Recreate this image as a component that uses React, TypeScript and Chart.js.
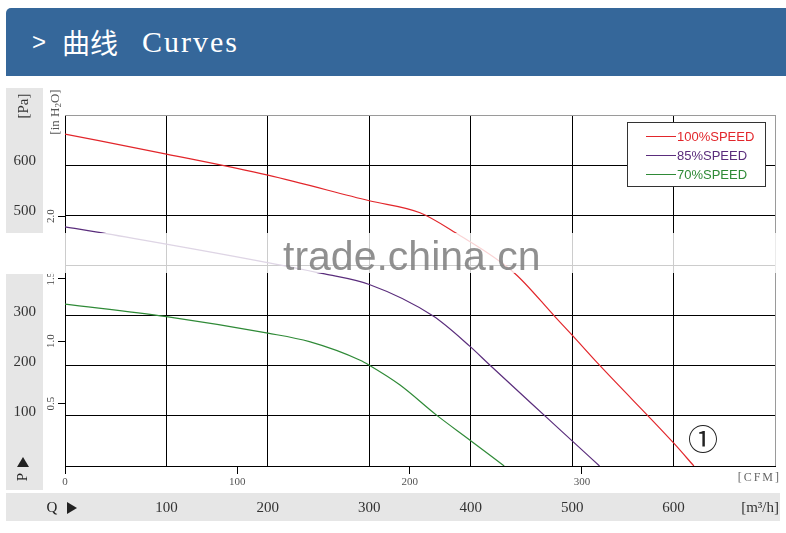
import React, { useEffect, useRef } from "react";
import { Chart, registerables } from "chart.js";

Chart.register(...registerables);

// ---- data (flow in m³/h, static pressure in Pa) ----
const FLOW_100 = [0, 100, 200, 300, 350, 385, 443, 483, 500, 527, 600, 620];
const PRESS_100 = [662, 622, 580, 529, 505, 465, 385, 298, 261, 201, 46, 0];
const FLOW_85 = [0, 42, 256, 300, 363, 399, 418, 478, 500, 527];
const PRESS_85 = [477, 463, 383, 362, 299, 239, 203, 91, 50, 0];
const FLOW_70 = [0, 100, 200, 241, 291, 300, 330, 366, 399, 433];
const PRESS_70 = [323, 298, 265, 248, 211, 201, 162, 102, 52, 0];

const SERIES_LABELS = ["100%SPEED", "85%SPEED", "70%SPEED"];
const SERIES_COLORS = ["#e2262b", "#5a2d7c", "#2f8a37"];

const M3H_TICK_LABELS = [100, 200, 300, 400, 500, 600];
const PA_TICK_LABELS = [100, 200, 300, 400, 500, 600];
const CFM_TICKS = [0, 100, 200, 300];
const INH2O_TICKS = [0.5, 1.0, 1.5, 2.0];

const FLOW_MAX = 700;
const PRESS_MAX = 700;
const M3H_PER_CFM = 1.699;
const PA_PER_INH2O = 249.09;

const SERIF = "'Liberation Serif', 'DejaVu Serif', serif";
const SANS = "'Liberation Sans', Arial, sans-serif";

function pts(xs: number[], ys: number[]) {
  return xs.map((x, i) => ({ x, y: ys[i] }));
}

function rotText(ctx: CanvasRenderingContext2D, text: string, x: number, y: number, font: string, color: string) {
  ctx.save();
  ctx.translate(x, y);
  ctx.rotate(-Math.PI / 2);
  ctx.font = font;
  ctx.fillStyle = color;
  ctx.textAlign = "center";
  ctx.textBaseline = "middle";
  ctx.fillText(text, 0, 0);
  ctx.restore();
}

const decorPlugin = {
  id: "decor",
  beforeDraw(chart: any) {
    const ctx: CanvasRenderingContext2D = chart.ctx;
    ctx.save();
    ctx.fillStyle = "#e6e6e6";
    ctx.fillRect(6, 88, 37, 402);
    ctx.fillRect(6, 493, 774, 28);
    ctx.restore();
  },
  afterDraw(chart: any) {
    const ctx: CanvasRenderingContext2D = chart.ctx;
    const area = chart.chartArea;
    ctx.save();

    // legend box
    const bx = area.right - 148;
    const by = area.top + 7;
    ctx.fillStyle = "#fff";
    ctx.fillRect(bx, by, 138, 64);
    ctx.strokeStyle = "#333";
    ctx.lineWidth = 1;
    ctx.strokeRect(bx + 0.5, by + 0.5, 138, 64);
    chart.data.datasets.forEach((ds: any, i: number) => {
      const y = by + 14 + i * 19;
      ctx.strokeStyle = ds.borderColor;
      ctx.lineWidth = 1;
      ctx.beginPath();
      ctx.moveTo(bx + 19, y + 0.5);
      ctx.lineTo(bx + 49, y + 0.5);
      ctx.stroke();
      ctx.fillStyle = ds.borderColor;
      ctx.font = `13px ${SANS}`;
      ctx.textAlign = "left";
      ctx.textBaseline = "middle";
      ctx.fillText(ds.label, bx + 50, y + 1);
    });

    // axis titles
    rotText(ctx, "[Pa]", 24, 106, `15px ${SERIF}`, "#333");

    // [in H2O]
    ctx.save();
    ctx.translate(56, 112);
    ctx.rotate(-Math.PI / 2);
    ctx.fillStyle = "#555";
    ctx.textBaseline = "middle";
    ctx.textAlign = "left";
    const f1 = `13px ${SERIF}`;
    const f2 = `9px ${SERIF}`;
    ctx.font = f1;
    const a = "[in H";
    const c = "O]";
    const wa = ctx.measureText(a).width;
    const wc = ctx.measureText(c).width;
    ctx.font = f2;
    const wb = ctx.measureText("2").width;
    const total = wa + wb + wc;
    let cx = -total / 2;
    ctx.font = f1;
    ctx.fillText(a, cx, 0);
    cx += wa;
    ctx.font = f2;
    ctx.fillText("2", cx, 3);
    cx += wb;
    ctx.font = f1;
    ctx.fillText(c, cx, 0);
    ctx.restore();

    // P ▲
    ctx.fillStyle = "#222";
    ctx.beginPath();
    ctx.moveTo(23, 457);
    ctx.lineTo(29, 467);
    ctx.lineTo(17, 467);
    ctx.closePath();
    ctx.fill();
    rotText(ctx, "P", 23, 477, `15px ${SERIF}`, "#222");

    // Q ▶
    ctx.font = `15px ${SERIF}`;
    ctx.fillStyle = "#222";
    ctx.textAlign = "center";
    ctx.textBaseline = "middle";
    ctx.fillText("Q", 52, 508);
    ctx.beginPath();
    ctx.moveTo(67, 502);
    ctx.lineTo(77, 508);
    ctx.lineTo(67, 514);
    ctx.closePath();
    ctx.fill();

    // unit labels
    ctx.textAlign = "right";
    ctx.fillStyle = "#666";
    ctx.font = `12px ${SERIF}`;
    (ctx as any).letterSpacing = "2px";
    ctx.fillText("[CFM]", 781, 478);
    (ctx as any).letterSpacing = "0px";
    ctx.fillStyle = "#333";
    ctx.font = `15px ${SERIF}`;
    ctx.fillText("[m³/h]", 779, 508);

    // curve marker
    ctx.textAlign = "center";
    ctx.fillStyle = "#222";
    ctx.font = `30px 'Noto Sans CJK SC', 'DejaVu Sans', sans-serif`;
    ctx.fillText("①", 703, 439);

    // watermark band
    ctx.fillStyle = "#ffffff";
    ctx.fillRect(0, 233, 48, 41);
    ctx.fillStyle = "rgba(255,255,255,0.92)";
    ctx.fillRect(48, 233, 16, 41);
    ctx.fillStyle = "rgba(255,255,255,0.8)";
    ctx.fillRect(64, 233, 722, 40);
    ctx.fillStyle = "rgba(125,125,125,0.85)";
    ctx.font = `41px ${SANS}`;
    ctx.textAlign = "left";
    ctx.textBaseline = "alphabetic";
    ctx.fillText("trade.china.cn", 283, 270);

    ctx.restore();
  },
};

export default function App() {
  const canvasRef = useRef<HTMLCanvasElement | null>(null);

  useEffect(() => {
    if (!canvasRef.current) return;
    const chart = new Chart(canvasRef.current, {
      type: "line",
      data: {
        datasets: [
          { label: SERIES_LABELS[0], data: pts(FLOW_100, PRESS_100), borderColor: SERIES_COLORS[0] },
          { label: SERIES_LABELS[1], data: pts(FLOW_85, PRESS_85), borderColor: SERIES_COLORS[1] },
          { label: SERIES_LABELS[2], data: pts(FLOW_70, PRESS_70), borderColor: SERIES_COLORS[2] },
        ].map((d) => ({
          ...d,
          borderWidth: 1.2,
          pointRadius: 0,
          fill: false,
          cubicInterpolationMode: "monotone" as const,
        })),
      },
      options: {
        animation: false,
        responsive: true,
        maintainAspectRatio: false,
        layout: { padding: { left: 6, right: 11, top: 115, bottom: 11 } },
        plugins: { legend: { display: false }, tooltip: { enabled: false } },
        scales: {
          x: {
            type: "linear",
            axis: "x",
            position: "bottom",
            weight: 1,
            min: 0,
            max: FLOW_MAX,
            ticks: {
              stepSize: 100,
              autoSkip: false,
              maxRotation: 0,
              callback: (v: any) => (M3H_TICK_LABELS.includes(Number(v)) ? String(v) : ""),
              font: { family: SERIF, size: 15 },
              color: "#333",
              padding: 9,
            },
            grid: {
              color: (c: any) => (c.tick && c.tick.value === FLOW_MAX ? "#9a9a9a" : "#000"),
              drawTicks: false,
              lineWidth: 1,
            },
            border: { display: false },
            afterFit: (s: any) => {
              s.height = 32;
            },
          },
          xc: {
            type: "linear",
            axis: "x",
            position: "bottom",
            weight: 0,
            min: 0,
            max: FLOW_MAX / M3H_PER_CFM,
            afterBuildTicks: (s: any) => {
              s.ticks = CFM_TICKS.map((v) => ({ value: v }));
            },
            ticks: {
              autoSkip: false,
              maxRotation: 0,
              callback: (v: any) => String(v),
              font: { family: SERIF, size: 11 },
              color: "#555",
              padding: 2,
            },
            grid: { drawOnChartArea: false, drawTicks: true, tickLength: 8, color: "#000" },
            border: { display: true, color: "#000" },
            afterFit: (s: any) => {
              s.height = 24;
            },
          },
          y: {
            type: "linear",
            axis: "y",
            position: "left",
            weight: 1,
            min: 0,
            max: PRESS_MAX,
            ticks: {
              stepSize: 100,
              autoSkip: false,
              callback: (v: any) => (PA_TICK_LABELS.includes(Number(v)) ? String(v) : ""),
              font: { family: SERIF, size: 15 },
              color: "#333",
              padding: 7,
              labelOffset: -4,
            },
            grid: {
              color: (c: any) => (c.tick && c.tick.value === PRESS_MAX ? "#9a9a9a" : "#000"),
              drawTicks: false,
              lineWidth: 1,
            },
            border: { display: false },
            afterFit: (s: any) => {
              s.width = 37;
            },
          },
          yh: {
            type: "linear",
            axis: "y",
            position: "left",
            weight: 0,
            min: 0,
            max: PRESS_MAX / PA_PER_INH2O,
            afterBuildTicks: (s: any) => {
              s.ticks = INH2O_TICKS.map((v) => ({ value: v }));
            },
            ticks: {
              autoSkip: false,
              minRotation: 90,
              maxRotation: 90,
              crossAlign: "center",
              callback: (v: any) => Number(v).toFixed(1),
              font: { family: SERIF, size: 11 },
              color: "#444",
              padding: 0,
            },
            grid: { drawOnChartArea: false, drawTicks: true, tickLength: 7, color: "#000" },
            border: { display: false },
            afterFit: (s: any) => {
              s.width = 22;
            },
          },
        },
      } as any,
      plugins: [decorPlugin],
    });
    return () => chart.destroy();
  }, []);

  return (
    <div style={{ position: "absolute", left: 0, top: 0, width: 786, height: 533, background: "#fff" }}>
      <div
        style={{
          position: "absolute",
          left: 6,
          top: 8,
          width: 780,
          height: 68,
          background: "#35679a",
          borderTopLeftRadius: 5,
          color: "#fff",
        }}
      >
        <span style={{ position: "absolute", left: 26, top: 0, height: 68, display: "flex", alignItems: "center", fontFamily: SANS, fontSize: 24 }}>
          &gt;
        </span>
        <span style={{ position: "absolute", left: 56, top: 0, height: 68, display: "flex", alignItems: "center", fontFamily: "'Noto Sans CJK SC', sans-serif", fontSize: 28 }}>
          曲线
        </span>
        <span style={{ position: "absolute", left: 136, top: 0, height: 68, display: "flex", alignItems: "center", fontFamily: SERIF, fontSize: 30, letterSpacing: 2 }}>
          Curves
        </span>
      </div>
      <div style={{ position: "absolute", left: 0, top: 0, width: 786, height: 533 }}>
        <canvas ref={canvasRef} />
      </div>
    </div>
  );
}
